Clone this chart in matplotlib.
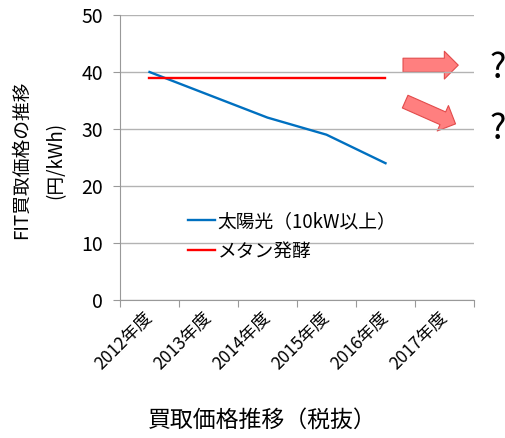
import matplotlib
matplotlib.use("Agg")
import matplotlib.pyplot as plt
from matplotlib.patches import FancyArrowPatch

plt.rcParams['font.family'] = ['Noto Sans CJK JP', 'DejaVu Sans']

years = ['2012年度', '2013年度', '2014年度', '2015年度', '2016年度', '2017年度']
solar = [40, 36, 32, 29, 24]
methane = [39, 39, 39, 39, 39]
solar_label = '太陽光（10kW以上）'
methane_label = 'メタン発酵'

fig = plt.figure(figsize=(5.06, 4.38), dpi=100)
ax = fig.add_axes([120/506, 1 - 300/438, 354/506, 285/438])

ax.plot(range(len(solar)), solar, color='#0070C0', linewidth=1.7, label=solar_label)
ax.plot(range(len(methane)), methane, color='#FF0000', linewidth=1.7, label=methane_label)

ax.set_xlim(-0.5, len(years) - 0.5)
ax.set_ylim(0, 50)
ax.set_yticks([0, 10, 20, 30, 40, 50])
# category boundaries get the tick marks, the names sit between them
ax.set_xticks([i - 0.5 for i in range(len(years) + 1)])
ax.set_xticklabels([])
ax.set_xticks(range(len(years)), minor=True)
ax.set_xticklabels(years, minor=True, rotation=45, ha='right', va='center',
                   rotation_mode='anchor', fontsize=12.5)
ax.tick_params(axis='x', which='minor', length=0, pad=11)
ax.tick_params(axis='x', which='major', length=5, color='#999999')
ax.tick_params(axis='y', length=5, color='#999999', labelsize=14, pad=7)

ax.grid(axis='y', color='#b3b3b3', linewidth=1)
for s in ['top', 'right']:
    ax.spines[s].set_visible(False)
for s in ['left', 'bottom']:
    ax.spines[s].set_color('#999999')

# arrows to the right of the data
arrow_style = 'simple,head_length=10,head_width=20,tail_width=10'
for start, end in [((4.25, 41.2), (5.28, 41.2)), ((4.29, 35.0), (5.23, 30.7))]:
    ax.add_patch(FancyArrowPatch(start, end, arrowstyle=arrow_style,
                                 facecolor='#ff7f7f', edgecolor='#e24b4b',
                                 linewidth=0.8, clip_on=False))

ax.legend(loc='upper left', bbox_to_anchor=(0.165, 0.345), frameon=False,
          fontsize=13.5, handlelength=1.45, handletextpad=0.15, borderpad=0,
          labelspacing=0.45)

fig.text(39/506, 1 - 160/438, 'FIT買取価格の推移\n(円/kWh)', rotation=90,
         ha='center', va='center', multialignment='center', fontsize=13.5,
         linespacing=1.85)
fig.text(262/506, 1 - 420/438, '買取価格推移（税抜）', ha='center', va='center',
         fontsize=16.5)
fig.text(498/506, 1 - 68/438, '?', ha='center', va='center', fontsize=25)
fig.text(498/506, 1 - 130/438, '?', ha='center', va='center', fontsize=25)

fig.savefig('out.png', dpi=100)
